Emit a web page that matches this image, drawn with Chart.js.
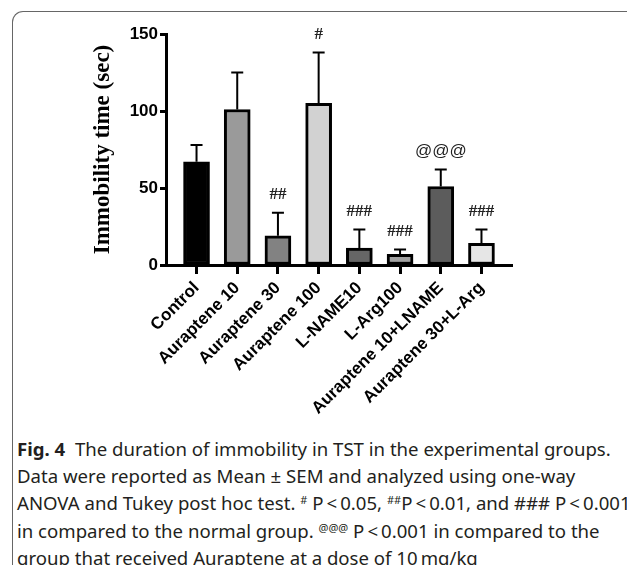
<!DOCTYPE html>
<html>
<head>
<meta charset="utf-8">
<script src="https://cdn.jsdelivr.net/npm/chart.js@4.4.1/dist/chart.umd.min.js"></script>
<style>
  html, body { margin: 0; padding: 0; background: #fff; }
  body { width: 627px; height: 565px; position: relative; overflow: hidden; }
  .frame {
    position: absolute; left: 12px; top: 11px; width: 640px; height: 600px;
    border-top: 1.5px solid #666; border-left: 1.5px solid #666;
    border-top-left-radius: 11px;
  }
  #chartBox { position: absolute; left: 0; top: 0; width: 627px; height: 430px; }
  .caption {
    position: absolute; left: 17px; top: 435px; width: 605px;
    font-family: "Noto Sans", sans-serif; font-size: 18.6px; line-height: 27.2px;
    color: #231f20; white-space: nowrap;
  }
  .caption b { font-weight: bold; }
  .caption sup { font-size: 11px; vertical-align: 6px; line-height: 0; }
</style>
</head>
<body>
<div class="frame"></div>
<div id="chartBox"><canvas id="tstChart"></canvas></div>
<div class="caption">
  <b>Fig. 4</b>&nbsp; The duration of immobility in TST in the experimental groups.<br>
  Data were reported as Mean ± SEM and analyzed using one-way<br>
  ANOVA and Tukey post hoc test. <sup>#</sup> P&thinsp;&lt;&thinsp;0.05, <sup>##</sup>P&thinsp;&lt;&thinsp;0.01, and ### P&thinsp;&lt;&thinsp;0.001<br>
  in compared to the normal group. <sup>@@@</sup> P&thinsp;&lt;&thinsp;0.001 in compared to the<br>
  group that received Auraptene at a dose of 10&thinsp;mg/kg
</div>
<script>
// 组别与数据 (均值, 均值+SEM)
const groups = ['Control', 'Auraptene 10', 'Auraptene 30', 'Auraptene 100', 'L-NAME10', 'L-Arg100', 'Auraptene 10+LNAME', 'Auraptene 30+L-Arg'];
const meanValues = [67, 101, 19, 105, 11, 7, 51, 14];
const upperValues = [78, 125, 34, 138, 23, 10, 62, 23];
const marks = ['', '', '##', '#', '###', '###', '@@@', '###'];
const barColors = ['#000000', '#9a9a9a', '#828282', '#d2d2d2', '#666666', '#a2a2a2', '#5c5c5c', '#e6e6e6'];
const yTicks = [0, 50, 100, 150];

// 误差线和显著性标记
const errorBarPlugin = {
    id: 'errorBars',
    afterDatasetsDraw(chart) {
        const ctx = chart.ctx;
        const x = chart.scales.x;
        const y = chart.scales.y;
        ctx.save();
        ctx.strokeStyle = '#000';
        ctx.lineWidth = 2;
        groups.forEach((g, i) => {
            const cx = x.getPixelForValue(i);
            const top = y.getPixelForValue(upperValues[i]);
            const base = y.getPixelForValue(meanValues[i]);
            ctx.beginPath();
            ctx.moveTo(cx, base);
            ctx.lineTo(cx, top);
            ctx.moveTo(cx - 6, top);
            ctx.lineTo(cx + 6, top);
            ctx.stroke();
            if (marks[i]) {
                ctx.fillStyle = '#222';
                ctx.font = marks[i] === '@@@' ? '17px "Liberation Sans", sans-serif' : 'bold 17px "Liberation Serif", serif';
                ctx.textAlign = 'center';
                ctx.textBaseline = 'middle';
                ctx.fillText(marks[i], cx, top - 18);
            }
        });
        ctx.restore();
    }
};

function initChart() {
    const ctx = document.getElementById('tstChart').getContext('2d');
    new Chart(ctx, {
        type: 'bar',
        data: {
            datasets: [{
                data: meanValues.map((v, i) => ({ x: i, y: v })),
                backgroundColor: barColors,
                borderColor: '#000',
                borderWidth: 3,
                borderSkipped: false,
                barThickness: 26
            }]
        },
        plugins: [errorBarPlugin],
        options: {
            responsive: true,
            maintainAspectRatio: false,
            animation: false,
            layout: { padding: { left: 0, top: 34, right: 115, bottom: 0 } },
            plugins: { legend: { display: false }, tooltip: { enabled: false } },
            scales: {
                x: {
                    type: 'linear',
                    offset: false,
                    min: -0.75,
                    max: 7.75,
                    afterBuildTicks(scale) {
                        scale.ticks = groups.map((g, i) => ({ value: i }));
                    },
                    afterFit(scale) { scale.height = 430 - 34 - 231; },
                    grid: { offset: false, drawOnChartArea: false, drawTicks: true, tickLength: 9, tickWidth: 3, tickColor: '#000' },
                    border: { display: true, color: '#000', width: 3 },
                    ticks: {
                        autoSkip: false,
                        maxRotation: 45,
                        minRotation: 45,
                        padding: 4,
                        color: '#000',
                        font: { family: '"Liberation Sans", Arial, sans-serif', size: 17, weight: 'bold' },
                        callback: (v) => groups[v] ?? ''
                    }
                },
                y: {
                    min: 0,
                    max: 150,
                    afterBuildTicks(scale) {
                        scale.ticks = yTicks.map(v => ({ value: v }));
                    },
                    afterFit(scale) { scale.width = 166; },
                    grid: { drawOnChartArea: false, drawTicks: true, tickLength: 6, tickWidth: 3, tickColor: '#000' },
                    border: { display: true, color: '#000', width: 3 },
                    ticks: {
                        padding: 2,
                        color: '#000',
                        font: { family: '"Liberation Sans", Arial, sans-serif', size: 17, weight: 'bold' }
                    },
                    title: {
                        display: true,
                        text: 'Immobility time (sec)',
                        color: '#000',
                        padding: { top: 89, bottom: 0 },
                        font: { family: '"Liberation Serif", "Times New Roman", serif', size: 23, weight: 'bold' }
                    }
                }
            }
        }
    });
}

document.addEventListener('DOMContentLoaded', initChart);
</script>
</body>
</html>
